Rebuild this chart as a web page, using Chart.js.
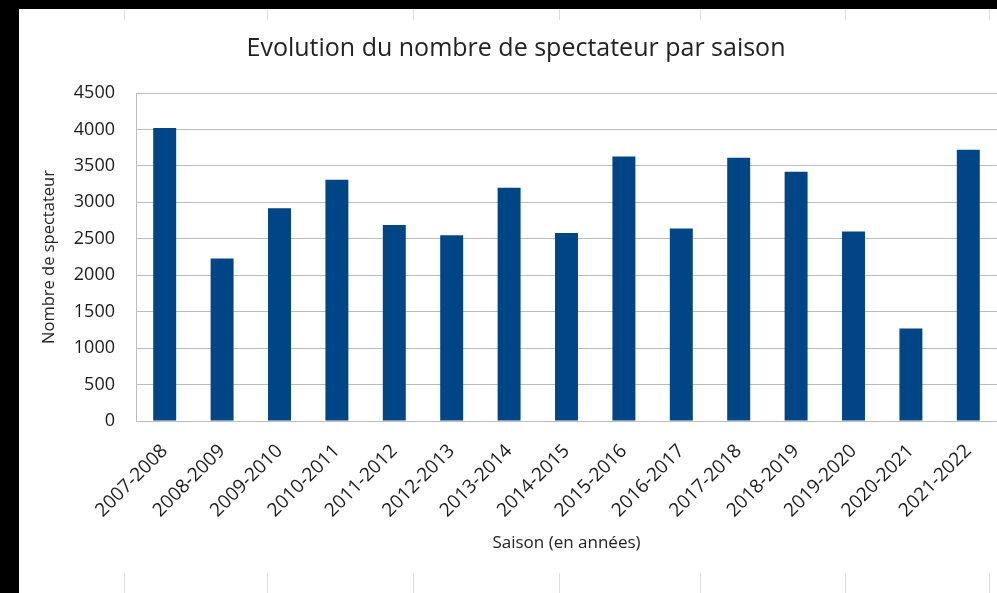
<!DOCTYPE html>
<html>
<head>
<meta charset="utf-8">
<script src="https://cdn.jsdelivr.net/npm/chart.js@4"></script>
<style>
  html, body { margin: 0; padding: 0; background: #000; }
  #wrap { position: absolute; left: 19px; top: 9px; width: 978px; height: 584px; background: #fff; }
</style>
</head>
<body>
<div id="wrap"><canvas id="graphique"></canvas></div>
<script>
const saisons = ['2007-2008', '2008-2009', '2009-2010', '2010-2011', '2011-2012', '2012-2013', '2013-2014',
    '2014-2015', '2015-2016', '2016-2017', '2017-2018', '2018-2019', '2019-2020', '2020-2021', '2021-2022']
const spectateurs = [4020, 2230, 2920, 3310, 2690, 2550, 3200, 2580, 3630, 2640, 3610, 3420, 2600, 1270, 3720]
const yMax = 4500
const yPas = 500

const police = 'Open Sans'
const gris = '#bcbcbc'

// petits traits du tableur visibles en haut et en bas de la capture
const traitsTableur = {
    id: 'traitsTableur',
    afterDraw(chart) {
        const c = chart.ctx
        c.save()
        c.strokeStyle = '#dcdcdc'
        c.lineWidth = 1
        ;[105, 248, 394, 540, 681, 826, 970].forEach(x => {
            c.beginPath()
            c.moveTo(x + 0.5, 0)
            c.lineTo(x + 0.5, 11)
            c.moveTo(x + 0.5, 564)
            c.lineTo(x + 0.5, 584)
            c.stroke()
        })
        c.restore()
    }
}

const ctx = document.getElementById('graphique')

const graphique = new Chart(ctx, {
    type: 'bar',
    data: {
        labels: saisons,
        datasets: [{
            label: 'Nombre de spectateur',
            data: spectateurs,
            backgroundColor: '#004586',
            borderWidth: 0,
            barPercentage: 0.4,
            categoryPercentage: 1.0
        }]
    },
    options: {
        responsive: true,
        maintainAspectRatio: false,
        animation: false,
        layout: { padding: { left: 16, right: 0, top: 0, bottom: 0 } },
        plugins: {
            legend: { display: false },
            tooltip: { enabled: false },
            title: {
                display: true,
                text: 'Evolution du nombre de spectateur par saison',
                color: '#222',
                font: { family: police, size: 25, weight: 'normal' },
                padding: { top: 25, bottom: 29 }
            }
        },
        scales: {
            x: {
                grid: { display: false, drawTicks: false, tickLength: 0 },
                border: { display: true, color: gris },
                ticks: {
                    color: '#1a1a1a',
                    font: { family: police, size: 19 },
                    minRotation: 45,
                    maxRotation: 45,
                    padding: 19,
                    autoSkip: false
                },
                title: {
                    display: true,
                    text: 'Saison (en années)',
                    color: '#222',
                    font: { family: police, size: 17 },
                    padding: { top: 0, bottom: 40 }
                },
                afterFit: scale => {
                    scale.height = 172
                    scale.paddingLeft = 0
                    scale.paddingRight = 0
                }
            },
            y: {
                min: 0,
                max: yMax,
                grid: { color: gris, drawTicks: false, tickLength: 0 },
                border: { display: true, color: gris },
                ticks: {
                    stepSize: yPas,
                    color: '#1a1a1a',
                    font: { family: police, size: 18 },
                    padding: 21,
                    callback: v => String(v)
                },
                title: {
                    display: true,
                    text: 'Nombre de spectateur',
                    color: '#222',
                    font: { family: police, size: 16.5 },
                    padding: { top: 4, bottom: 0 }
                },
                afterFit: scale => { scale.width = 101 }
            }
        }
    },
    plugins: [traitsTableur]
})
</script>
</body>
</html>
